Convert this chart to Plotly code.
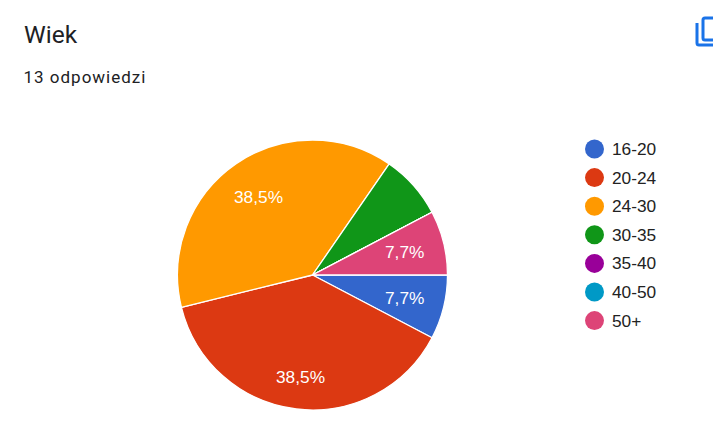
import math
import plotly.graph_objects as go

TITLE = "Wiek"
SUBTITLE = "13 odpowiedzi"
categories = ["16-20", "20-24", "24-30", "30-35", "35-40", "40-50", "50+"]
values = [1, 5, 5, 1, 0, 0, 1]
colors = ["#3366cc", "#dc3912", "#ff9900", "#109618", "#990099", "#0099c6", "#dd4477"]

W, H = 713, 422
CX, CY, R = 312.5, 275, 135
# distance of each slice label from the pie centre; None leaves the slice unlabelled
label_radius = [95, 103, 95, None, None, None, 95]


def px(x):
    return x / W


def py(y):
    return 1 - y / H


fig = go.Figure(
    go.Pie(
        labels=categories,
        values=values,
        sort=False,
        direction="clockwise",
        rotation=90,
        marker=dict(colors=colors, line=dict(color="white", width=1.3)),
        textinfo="none",
        hoverinfo="label+percent",
        showlegend=False,
        domain=dict(x=[px(CX - R), px(CX + R)], y=[py(CY + R), py(CY - R)]),
    )
)

shapes = []
annotations = [
    dict(text=TITLE, x=px(22), y=py(34), xref="paper", yref="paper", xanchor="left", yanchor="middle",
         showarrow=False, font=dict(family="Roboto", size=24.5, color="#202124")),
    dict(text=SUBTITLE, x=px(28), y=py(77), xref="paper", yref="paper", xanchor="left", yanchor="middle",
         showarrow=False, font=dict(family="Roboto", size=17, color="#202124")),
]
for i, (c, col) in enumerate(zip(categories, colors)):
    y = 149 + i * 28.6
    shapes.append(dict(type="circle", xref="paper", yref="paper", x0=px(585), x1=px(604), y0=py(y + 9.5), y1=py(y - 9.5),
                       fillcolor=col, line=dict(width=0)))
    annotations.append(dict(text=c, x=px(610), y=py(y), xref="paper", yref="paper", xanchor="left", yanchor="middle",
                            showarrow=False, font=dict(family="Liberation Sans", size=17.3, color="#222222")))

# slice labels, positioned from the values
total = sum(values)
running = 0
for v, r in zip(values, label_radius):
    mid = math.radians((running + v / 2) / total * 360)
    running += v
    if r is None:
        continue
    annotations.append(dict(
        text=f"{v / total * 100:.1f}%".replace(".", ","),
        x=px(CX + r * math.cos(mid)), y=py(CY + r * math.sin(mid)),
        xref="paper", yref="paper", xanchor="center", yanchor="middle", showarrow=False,
        font=dict(family="Liberation Sans", size=17.3, color="white")))

# copy icon, clipped by the right edge of the picture
blue = "#1a73e8"
shapes.append(dict(type="path", xref="paper", yref="paper",
                   path=f"M {px(713)} {py(18)} L {px(705)} {py(18)} Q {px(703)} {py(18)} {px(703)} {py(20)} L {px(703)} {py(38)} Q {px(703)} {py(40)} {px(705)} {py(40)} L {px(713)} {py(40)}",
                   line=dict(color=blue, width=3), fillcolor="rgba(0,0,0,0)"))
shapes.append(dict(type="path", xref="paper", yref="paper",
                   path=f"M {px(697)} {py(23)} L {px(697)} {py(43)} Q {px(697)} {py(45)} {px(699)} {py(45)} L {px(713)} {py(45)}",
                   line=dict(color=blue, width=3), fillcolor="rgba(0,0,0,0)"))

fig.update_layout(
    width=W, height=H, margin=dict(l=0, r=0, t=0, b=0),
    paper_bgcolor="white", plot_bgcolor="white",
    shapes=shapes, annotations=annotations,
)
post = """
document.body.style.margin='0';
document.body.style.overflow='hidden';
document.querySelectorAll('.annotation-text').forEach(function(t){
  if (t.textContent === '13 odpowiedzi') { t.style.letterSpacing = '1px'; }
});
"""
fig.write_html("out.html", post_script=post, config=dict(displayModeBar=False))
